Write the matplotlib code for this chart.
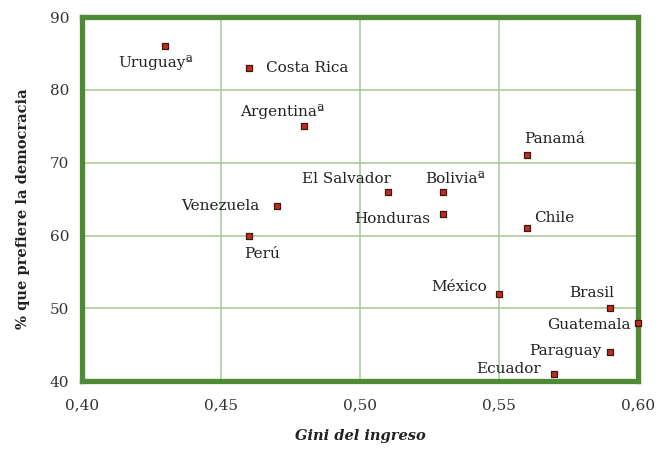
import matplotlib
matplotlib.use("Agg")
import matplotlib.pyplot as plt
from matplotlib.ticker import FixedLocator, FuncFormatter

countries = ["Uruguayª", "Costa Rica", "Argentinaª", "Venezuela", "Perú",
             "El Salvador", "Boliviaª", "Honduras", "Panamá", "Chile",
             "México", "Brasil", "Guatemala", "Paraguay", "Ecuador"]
gini = [0.43, 0.46, 0.48, 0.47, 0.46, 0.51, 0.53, 0.53, 0.56, 0.56,
        0.55, 0.59, 0.60, 0.59, 0.57]
demo = [86, 83, 75, 64, 60, 66, 66, 63, 71, 61, 52, 50, 48, 44, 41]

xticks = [0.40, 0.45, 0.50, 0.55, 0.60]
yticks = [40, 50, 60, 70, 80, 90]

# label placement (offset pixels, ha)
label_pos = [(-10, -16, "center"), (17, 0, "left"), (-22, 15, "center"),
             (-17, 0, "right"), (13, -18, "center"), (3, 13, "right"),
             (12, 13, "center"), (-13, -5, "right"), (-3, 16, "left"),
             (7, 10, "left"), (-12, 7, "right"), (4, 15, "right"),
             (-7, -2, "right"), (-9, 1, "right"), (-14, 5, "right")]

plt.rcParams['font.family'] = ['DejaVu Serif']

fig = plt.figure(figsize=(6.61, 4.5), dpi=100)
ax = fig.add_axes([0.124, 0.153, 0.841, 0.809])

ax.scatter(gini, demo, marker='s', s=24, facecolor='#c52a1e',
           edgecolor='#3a1a10', linewidths=0.9, zorder=5, clip_on=False)

for name, x, y, (dx, dy, ha) in zip(countries, gini, demo, label_pos):
    ax.annotate(name, (x, y), xytext=(dx, dy), textcoords='offset pixels',
                ha=ha, va='center', fontsize=11, color='#222222', zorder=6)

ax.set_xlim(0.40, 0.60)
ax.set_ylim(40, 90)
ax.xaxis.set_major_locator(FixedLocator(xticks))
ax.yaxis.set_major_locator(FixedLocator(yticks))
ax.xaxis.set_major_formatter(FuncFormatter(lambda v, p: f"{v:.2f}".replace('.', ',')))
ax.yaxis.set_major_formatter(FuncFormatter(lambda v, p: f"{v:.0f}"))
ax.grid(True, color='#a5c993', linewidth=1.1)
ax.set_axisbelow(True)
for s in ax.spines.values():
    s.set_color('#4f8a35')
    s.set_linewidth(3.8)
ax.tick_params(length=0, labelsize=11, labelcolor='#333333')
ax.tick_params(axis='x', pad=12)
ax.tick_params(axis='y', pad=9)

ax.set_xlabel("Gini del ingreso", fontsize=10.5, fontweight='bold', style='italic',
              color='#222222')
ax.xaxis.set_label_coords(0.5, -0.132)
ax.set_ylabel("% que prefiere la democracia", fontsize=10.5, fontweight='bold',
              color='#222222')
ax.yaxis.set_label_coords(-0.094, 0.473)

fig.savefig("out.png", dpi=100)
